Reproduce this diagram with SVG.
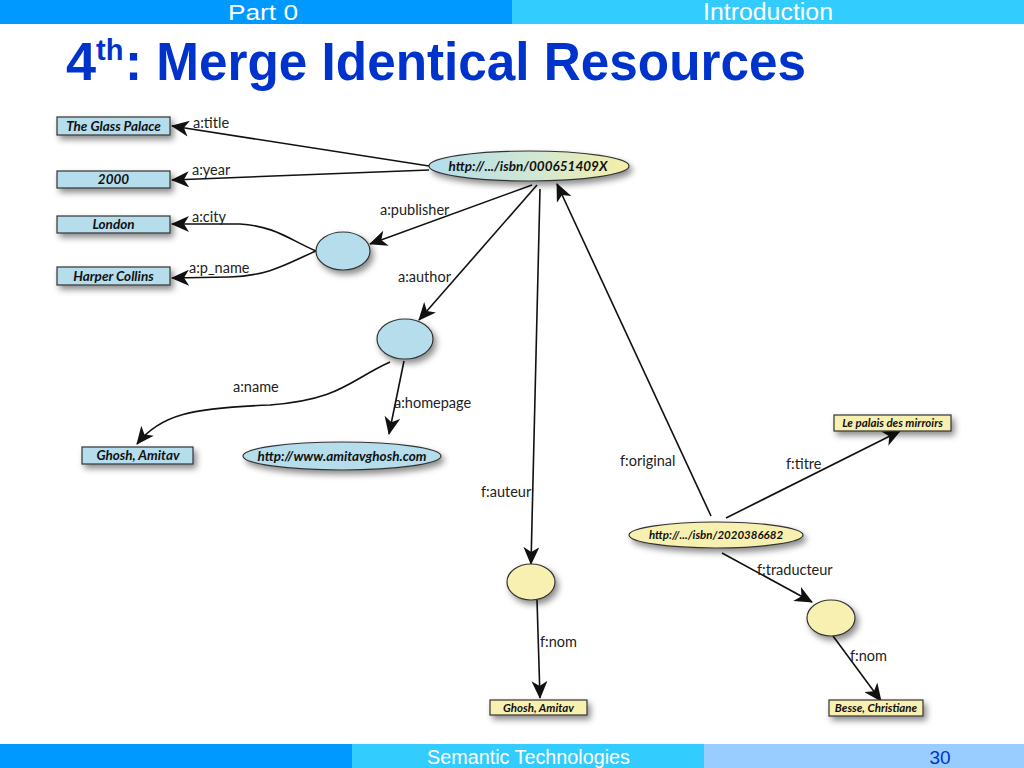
<svg xmlns="http://www.w3.org/2000/svg" width="1024" height="768" viewBox="0 0 1024 768">
<defs>
<style>
.hdr{font-family:"Liberation Sans Narrow","Liberation Sans",Arial,sans-serif;fill:#fff}
.lbl{font-family:Lato,"Open Sans","Liberation Sans",sans-serif;font-size:14.5px;fill:#222}
.nt{font-family:Lato,"Open Sans","Liberation Sans",sans-serif;font-size:13.5px;font-weight:bold;font-style:italic;fill:#111;text-anchor:middle}
.ny{font-size:11.5px}
.blue{fill:#B5DDEC;stroke:#333;stroke-width:1.2}
.yel{fill:#F8F0B0;stroke:#333;stroke-width:1.2}
.e{fill:none;stroke:#111;stroke-width:1.6;marker-end:url(#arr)}
</style>
<marker id="arr" markerUnits="userSpaceOnUse" markerWidth="20" markerHeight="16" refX="17" refY="8" orient="auto" viewBox="0 0 20 16">
<path d="M0,0 L18,8 L0,16 L5,8 z" fill="#111"/>
</marker>
<filter id="sh" x="-20%" y="-40%" width="150%" height="220%">
<feDropShadow dx="3" dy="4" stdDeviation="3" flood-color="#000" flood-opacity="0.45"/>
</filter>
<linearGradient id="g1" x1="0" y1="0" x2="1" y2="0">
<stop offset="0" stop-color="#B3DCEE"/>
<stop offset="0.55" stop-color="#D2E8D2"/>
<stop offset="1" stop-color="#F6EEA6"/>
</linearGradient>
</defs>
<rect width="1024" height="768" fill="#fff"/>
<!-- header -->
<rect x="0" y="0" width="512" height="24" fill="#0099FF"/>
<rect x="512" y="0" width="512" height="24" fill="#33CCFF"/>
<text class="hdr" x="228" y="20" font-size="22" textLength="70" lengthAdjust="spacingAndGlyphs">Part 0</text>
<text class="hdr" x="703" y="20" font-size="23" textLength="130" lengthAdjust="spacingAndGlyphs">Introduction</text>
<!-- title -->
<g font-family="'Liberation Sans',Arial,sans-serif" font-weight="bold" fill="#0033CC">
<text x="66" y="80" font-size="54">4</text>
<text x="96" y="60" font-size="29">th</text>
<text x="125" y="80" font-size="54" textLength="681" lengthAdjust="spacingAndGlyphs">: Merge Identical Resources</text>
</g>
<!-- footer -->
<rect x="0" y="744" width="352" height="24" fill="#0099FF"/>
<rect x="352" y="744" width="352" height="24" fill="#33CCFF"/>
<rect x="704" y="744" width="320" height="24" fill="#99CCFF"/>
<text class="hdr" x="427" y="764" font-size="20" textLength="203" lengthAdjust="spacingAndGlyphs">Semantic Technologies</text>
<text x="940" y="764" font-size="19" text-anchor="middle" font-family="'Liberation Sans Narrow','Liberation Sans',Arial,sans-serif" fill="#0033CC">30</text>

<!-- connectors -->
<g id="connectors">
<path class="e" d="M429,166 L172,126"/>
<path class="e" d="M429,170 L172,180"/>
<path class="e" d="M316,251 C290,240 275,226 240,224 L172,224"/>
<path class="e" d="M316,251 C290,262 270,276 230,277 L172,278"/>
<path class="e" d="M532,185 L370,244"/>
<path class="e" d="M537,185 L419,320"/>
<path class="e" d="M390,362 C350,380 340,400 270,405 C190,408 160,415 137,444"/>
<path class="e" d="M404,361 L389,434"/>
<path class="e" d="M540,189 L531,564"/>
<path class="e" d="M711,516 L557,184"/>
<path class="e" d="M726,518 L900,431"/>
<path class="e" d="M722,553 L812,602"/>
<path class="e" d="M537,600 L540,698"/>
<path class="e" d="M833,636 L881,701"/>
<g class="lbl">
<text x="193" y="128">a:title</text>
<text x="192" y="175">a:year</text>
<text x="192" y="222">a:city</text>
<text x="189" y="273">a:p_name</text>
<text x="380" y="215">a:publisher</text>
<text x="398" y="282">a:author</text>
<text x="233" y="392">a:name</text>
<text x="394" y="408">a:homepage</text>
<text x="620" y="466">f:original</text>
<text x="786" y="469">f:titre</text>
<text x="481" y="497">f:auteur</text>
<text x="757" y="575">f:traducteur</text>
<text x="540" y="647">f:nom</text>
<text x="850" y="661">f:nom</text>
</g>
</g>

<!-- nodes -->
<g id="n-glass"><rect class="blue" filter="url(#sh)" x="57" y="117" width="113" height="18"/><text class="nt" x="113.5" y="131">The Glass Palace</text></g>
<g id="n-2000"><rect class="blue" filter="url(#sh)" x="57" y="171" width="113" height="17"/><text class="nt" x="113.5" y="184">2000</text></g>
<g id="n-london"><rect class="blue" filter="url(#sh)" x="57" y="216" width="113" height="17"/><text class="nt" x="113.5" y="229">London</text></g>
<g id="n-harper"><rect class="blue" filter="url(#sh)" x="57" y="267" width="113" height="18"/><text class="nt" x="113.5" y="281">Harper Collins</text></g>
<g id="n-isbn1"><ellipse fill="url(#g1)" stroke="#333" stroke-width="1.2" filter="url(#sh)" cx="529" cy="166" rx="100" ry="15"/><text class="nt" x="528" y="171">http://.../isbn/000651409X</text></g>
<g id="n-pub"><ellipse class="blue" filter="url(#sh)" cx="343" cy="251" rx="27" ry="19"/></g>
<g id="n-auth"><ellipse class="blue" filter="url(#sh)" cx="405" cy="339" rx="28" ry="20"/></g>
<g id="n-ghosh1"><rect class="blue" filter="url(#sh)" x="82" y="447" width="111" height="17"/><text class="nt" x="138" y="460">Ghosh, Amitav</text></g>
<g id="n-home"><ellipse class="blue" filter="url(#sh)" cx="342" cy="456" rx="99" ry="14"/><text class="nt" x="342" y="461">http://www.amitavghosh.com</text></g>
<g id="n-palais"><rect class="yel" filter="url(#sh)" x="834" y="415" width="117" height="16"/><text class="nt ny" x="892.5" y="427">Le palais des mirroirs</text></g>
<g id="n-isbn2"><ellipse class="yel" filter="url(#sh)" cx="716" cy="535" rx="87" ry="13"/><text class="nt ny" x="716" y="539">http://.../isbn/2020386682</text></g>
<g id="n-aut"><ellipse class="yel" filter="url(#sh)" cx="531" cy="582" rx="24" ry="18"/></g>
<g id="n-trad"><ellipse class="yel" filter="url(#sh)" cx="831" cy="618" rx="24" ry="18"/></g>
<g id="n-ghosh2"><rect class="yel" filter="url(#sh)" x="490" y="700" width="97" height="15"/><text class="nt ny" x="538.5" y="711.5">Ghosh, Amitav</text></g>
<g id="n-besse"><rect class="yel" filter="url(#sh)" x="829" y="700" width="94" height="16"/><text class="nt ny" x="876" y="712">Besse, Christiane</text></g>
</svg>
